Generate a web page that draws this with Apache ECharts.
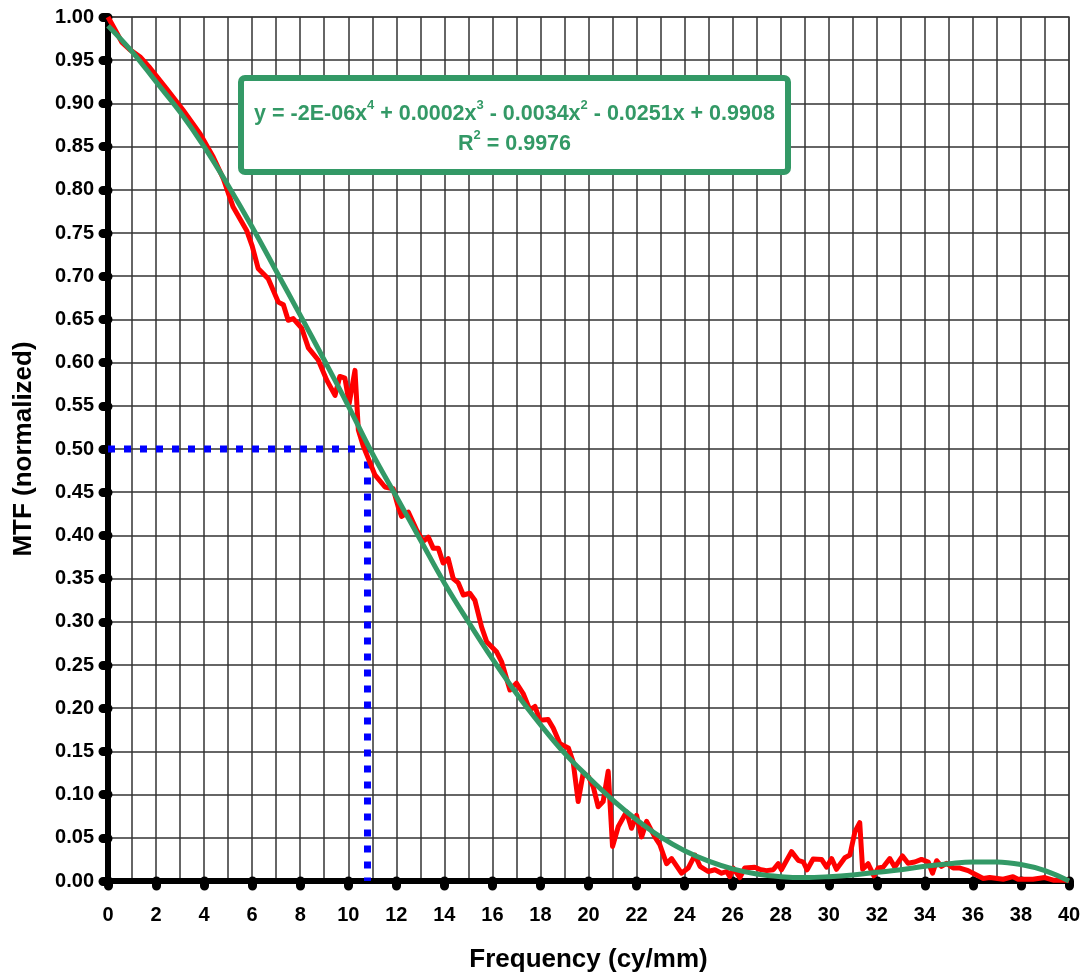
<!DOCTYPE html>
<html>
<head>
<meta charset="utf-8">
<script src="https://cdn.jsdelivr.net/npm/echarts@6/dist/echarts.min.js"></script>
<style>
  html, body { margin: 0; padding: 0; background: #fff; }
  #chart { width: 1082px; height: 972px; }
</style>
</head>
<body>
<div id="chart"></div>
<script>
const redFreq = [0, 0.3, 0.57, 0.92, 1.33, 1.75, 2.44, 3.13, 3.83, 4.38, 4.8, 5.21, 5.77, 6.0, 6.25, 6.67, 7.09, 7.3, 7.5, 7.71,
  8.06, 8.34, 8.75, 9.1, 9.45, 9.65, 9.86, 10.04, 10.28, 10.42, 10.63, 11.11, 11.53, 11.87, 12.08, 12.22, 12.5, 12.85, 13.12, 13.33,
  13.54, 13.75, 13.95, 14.16, 14.37, 14.58, 14.79, 15.06, 15.27, 15.55, 15.76, 16.18, 16.38, 16.73, 17.0, 17.28, 17.56, 17.77, 17.98, 18.32,
  18.53, 18.81, 19.16, 19.36, 19.57, 19.78, 19.99, 20.2, 20.4, 20.61, 20.82, 21.0, 21.24, 21.58, 21.79, 22.0, 22.21, 22.42, 22.76, 22.97,
  23.25, 23.46, 23.87, 24.15, 24.43, 24.64, 24.98, 25.26, 25.54, 25.75, 25.88, 26.02, 26.3, 26.5, 26.92, 27.13, 27.41, 27.69, 27.9, 28.03,
  28.45, 28.73, 28.94, 29.1, 29.35, 29.7, 29.91, 30.12, 30.32, 30.67, 30.88, 31.09, 31.29, 31.41, 31.64, 31.88, 32.06, 32.26, 32.54, 32.75,
  33.07, 33.3, 33.58, 33.86, 34.14, 34.32, 34.49, 34.69, 34.9, 35.18, 35.46, 35.8, 36.15, 36.43, 36.7, 37.26, 37.67, 37.88, 38.5, 38.99,
  39.34, 40];
const redMtf = [1.0, 0.985, 0.971, 0.962, 0.954, 0.941, 0.917, 0.892, 0.865, 0.838, 0.813, 0.78, 0.753, 0.735, 0.709, 0.697, 0.67, 0.667, 0.649, 0.651,
  0.64, 0.617, 0.603, 0.58, 0.562, 0.584, 0.582, 0.553, 0.591, 0.522, 0.503, 0.47, 0.456, 0.454, 0.433, 0.422, 0.427, 0.406, 0.393, 0.398,
  0.385, 0.385, 0.368, 0.373, 0.35, 0.345, 0.331, 0.333, 0.325, 0.294, 0.277, 0.265, 0.254, 0.221, 0.229, 0.217, 0.198, 0.202, 0.186, 0.187,
  0.177, 0.159, 0.154, 0.138, 0.092, 0.125, 0.121, 0.109, 0.086, 0.092, 0.127, 0.04, 0.063, 0.08, 0.061, 0.076, 0.051, 0.069, 0.051, 0.042,
  0.02, 0.026, 0.009, 0.015, 0.03, 0.017, 0.011, 0.013, 0.009, 0.011, 0.005, 0.015, 0.004, 0.015, 0.016, 0.0135, 0.012, 0.013, 0.02, 0.013,
  0.034, 0.024, 0.022, 0.013, 0.0255, 0.025, 0.016, 0.026, 0.0135, 0.027, 0.03, 0.057, 0.0675, 0.0135, 0.02, 0.006, 0.015, 0.016, 0.026, 0.016,
  0.029, 0.0205, 0.022, 0.025, 0.022, 0.009, 0.0235, 0.017, 0.0205, 0.015, 0.015, 0.012, 0.007, 0.003, 0.004, 0.002, 0.005, 0.002, 0.002, 0.004,
  0.001, 0.001];

// polynomial trend line (green)
const fitFreq = [0, 1, 2, 3, 4, 5, 6, 7, 8, 9, 10, 11, 12, 13, 14, 15, 16, 17, 18, 19, 20,
  21, 22, 23, 24, 25, 26, 27, 28, 29, 30, 31, 32, 33, 34, 35, 36, 37, 38, 39, 40];
const fitMtf = [0.99, 0.96, 0.925, 0.89, 0.85, 0.805, 0.757, 0.706, 0.655, 0.603, 0.55, 0.495, 0.445, 0.395, 0.345, 0.3, 0.257, 0.217, 0.181, 0.148, 0.12,
  0.094, 0.071, 0.051, 0.035, 0.023, 0.014, 0.008, 0.005, 0.004, 0.005, 0.007, 0.01, 0.013, 0.017, 0.02, 0.022, 0.022, 0.019, 0.012, 0.0];

// MTF50 guide
const mtf50Freq = [0, 10.8, 10.8];
const mtf50Val = [0.5, 0.5, 0];

const xTicks = { min: 0, max: 40, step: 2, gridStep: 1 };
const yTicks = { min: 0, max: 1, step: 0.05 };

const eqLine1 = '{b|y = -2E-06x}{s|4}{b| + 0.0002x}{s|3}{b| - 0.0034x}{s|2}{b| - 0.0251x + 0.9908}';
const eqLine2 = '{b|R}{s|2}{b| = 0.9976}';

const zip = (a, b) => a.map((v, i) => [v, b[i]]);

const chart = echarts.init(document.getElementById('chart'));
const font = 'Liberation Sans, Arial, sans-serif';
const green = '#339966';
const gridLine = { color: '#333', width: 1.5 };
const eqRich = {
  b: { fontFamily: font, fontWeight: 'bold', fontSize: 21.5, fill: green, lineHeight: 26, verticalAlign: 'bottom' },
  s: { fontFamily: font, fontWeight: 'bold', fontSize: 13, fill: green, lineHeight: 26, verticalAlign: 'top' }
};

chart.setOption({
  animation: false,
  grid: {
    left: 108, right: 13, top: 17, bottom: 91, containLabel: false, outerBoundsMode: 'none',
    show: true, borderColor: '#999', borderWidth: 2, backgroundColor: '#fff'
  },
  xAxis: [
    {
      // grid lines at every unit
      type: 'value', min: xTicks.min, max: xTicks.max, interval: xTicks.gridStep,
      axisLine: { show: false }, axisTick: { show: false }, axisLabel: { show: false },
      splitLine: { show: true, lineStyle: gridLine }
    },
    {
      type: 'value', min: xTicks.min, max: xTicks.max, interval: xTicks.step, position: 'bottom',
      name: 'Frequency (cy/mm)', nameLocation: 'middle', nameGap: 66,
      nameTextStyle: { fontFamily: font, fontWeight: 'bold', fontSize: 26, color: '#000' },
      axisLine: { lineStyle: { color: '#000', width: 6 } },
      axisTick: { show: true, length: 5, lineStyle: { color: '#000', width: 9, cap: 'round' } },
      axisLabel: { fontFamily: font, fontWeight: 'bold', fontSize: 20, color: '#000', margin: 24 },
      splitLine: { show: false }
    }
  ],
  yAxis: {
    type: 'value', min: yTicks.min, max: yTicks.max, interval: yTicks.step,
    name: 'MTF (normalized)', nameLocation: 'middle', nameGap: 71, nameRotate: 90,
    nameTextStyle: { fontFamily: font, fontWeight: 'bold', fontSize: 26, color: '#000' },
    axisLine: { lineStyle: { color: '#000', width: 6 } },
    axisTick: { show: true, length: 5, lineStyle: { color: '#000', width: 9, cap: 'round' } },
    axisLabel: { fontFamily: font, fontWeight: 'bold', fontSize: 20, color: '#000', margin: 14,
      formatter: v => v.toFixed(2) },
    splitLine: { show: true, lineStyle: gridLine }
  },
  series: [
    {
      type: 'line', xAxisIndex: 1, data: zip(mtf50Freq, mtf50Val), symbol: 'none', silent: true,
      lineStyle: { color: '#0000ff', width: 7, type: [7, 9], cap: 'butt' }, z: 2
    },
    {
      type: 'line', xAxisIndex: 1, data: zip(redFreq, redMtf), symbol: 'none', silent: true,
      lineStyle: { color: '#ff0000', width: 5, join: 'round' }, z: 3
    },
    {
      type: 'line', xAxisIndex: 1, data: zip(fitFreq, fitMtf), symbol: 'none', smooth: 0.4, silent: true,
      lineStyle: { color: green, width: 5 }, z: 4
    }
  ],
  graphic: [
    {
      type: 'rect', x: 241, y: 78, z: 100,
      shape: { width: 547, height: 94, r: 4 },
      style: { fill: '#fff', stroke: green, lineWidth: 6 }
    },
    {
      type: 'text', x: 514.5, y: 99, z: 101,
      style: { text: eqLine1, align: 'center', verticalAlign: 'top', fill: green, rich: eqRich }
    },
    {
      type: 'text', x: 514.5, y: 129, z: 101,
      style: { text: eqLine2, align: 'center', verticalAlign: 'top', fill: green, rich: eqRich }
    }
  ]
});
</script>
</body>
</html>
